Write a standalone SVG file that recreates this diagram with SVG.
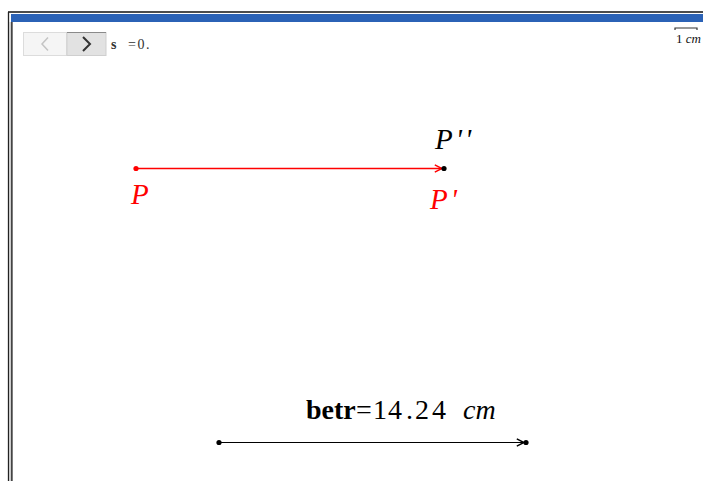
<svg xmlns="http://www.w3.org/2000/svg" width="703" height="481" viewBox="0 0 703 481">
<style>
text{font-family:"Liberation Serif","Times New Roman","DejaVu Serif",serif}
.lbl{font-style:italic;font-size:29px}
.red{fill:#ff0000}
.blk{fill:#000}
</style>
<defs>
<marker id="chevR" viewBox="0 0 10 10" refX="9" refY="5" markerWidth="9" markerHeight="9" markerUnits="userSpaceOnUse" orient="auto">
<polyline points="1,1 9,5 1,9" fill="none" stroke="#ff0000" stroke-width="1.6"/>
</marker>
<marker id="chevK" viewBox="0 0 10 10" refX="9" refY="5" markerWidth="9" markerHeight="9" markerUnits="userSpaceOnUse" orient="auto">
<polyline points="1,1 9,5 1,9" fill="none" stroke="#000" stroke-width="1.6"/>
</marker>
</defs>
<rect width="703" height="481" fill="#fff"/>
<g id="frame">
<line x1="8" y1="12" x2="703" y2="12" stroke="#111" stroke-width="1.5"/>
<rect x="11" y="14" width="692" height="8" fill="#2b62b6"/>
<line x1="8.5" y1="12" x2="8.5" y2="481" stroke="#222" stroke-width="1.3"/>
<line x1="10" y1="22" x2="10" y2="481" stroke="#bbb" stroke-width="1"/>
<line x1="11.8" y1="22" x2="11.8" y2="481" stroke="#444" stroke-width="1.8"/>
</g>
<g id="nav">
<rect x="23.5" y="32.5" width="43" height="23" fill="#f5f5f5" stroke="#dcdcdc"/>
<polyline points="48,37.5 42,44 48,50.5" fill="none" stroke="#c4c4c4" stroke-width="1.5"/>
<rect x="67" y="32.5" width="39" height="23" fill="#e2e2e2" stroke="#cfcfcf"/>
<line x1="67" y1="32.5" x2="106" y2="32.5" stroke="#8a8a8a" stroke-width="1.2"/>
<polyline points="83,37 90,44 83,51" fill="none" stroke="#333" stroke-width="2"/>
<text x="111" y="49" font-size="14" font-weight="bold" fill="#333">s</text>
<text x="128" y="49" font-size="14" letter-spacing="1.5" fill="#333">=0.</text>
</g>
<g id="scale">
<polyline points="675,30 675,28 697,28 697,30" fill="none" stroke="#333" stroke-width="1.2"/>
<text x="676" y="43" font-size="13" fill="#111">1 <tspan font-style="italic">cm</tspan></text>
</g>
<g id="connectors">
<line x1="136" y1="168.5" x2="442" y2="168.5" stroke="#ff0000" stroke-width="1.4" marker-end="url(#chevR)"/>
<line x1="219" y1="442.5" x2="524" y2="442.5" stroke="#000" stroke-width="1.1" marker-end="url(#chevK)"/>
</g>
<g id="P">
<circle cx="136" cy="168.5" r="2.6" fill="#ff0000"/>
<text x="131" y="204" class="lbl red">P</text>
</g>
<g id="P1">
<circle cx="444" cy="168.5" r="2.6" fill="#000"/>
<text x="430" y="209" class="lbl red" letter-spacing="3">P'</text>
</g>
<g id="P2">
<text x="435" y="149" class="lbl blk" letter-spacing="3">P''</text>
</g>
<g id="betr">
<circle cx="219" cy="442.5" r="2.6" fill="#000"/>
<circle cx="526" cy="442.5" r="2.6" fill="#000"/>
<text y="419" font-size="28" fill="#000"><tspan x="306" font-weight="bold">betr</tspan><tspan x="356 373 388 406 415 432">=14.24</tspan><tspan x="463" font-style="italic">cm</tspan></text>
</g>
</svg>
